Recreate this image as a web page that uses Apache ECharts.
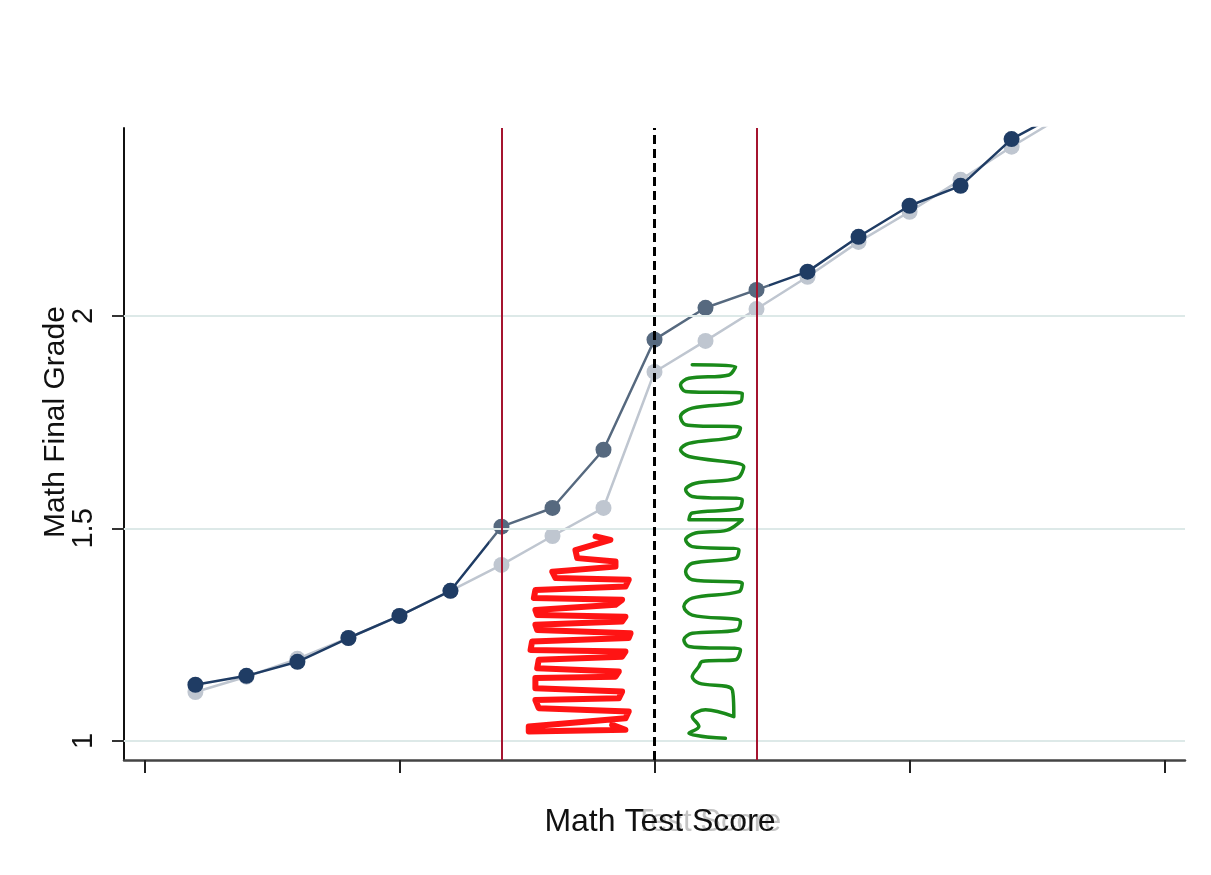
<!DOCTYPE html>
<html>
<head>
<meta charset="utf-8">
<script src="https://cdn.jsdelivr.net/npm/echarts@6/dist/echarts.min.js"></script>
<style>
  html, body { margin: 0; padding: 0; background: #fff; }
  #chart { width: 1211px; height: 875px; }
</style>
</head>
<body>
<div id="chart"></div>
<script>
// test score bins (distance from cutoff)
const scoreBins = [-18, -16, -14, -12, -10, -8, -6, -4, -2, 0, 2, 4, 6, 8, 10, 12, 14, 16]
// final grade, dark series
const gradeDark = [1.132, 1.153, 1.186, 1.242, 1.294, 1.353, 1.504, 1.548, 1.685, 1.944, 2.019, 2.061, 2.104, 2.186, 2.259, 2.306, 2.416, 2.48]
// final grade, light series
const gradeLight = [1.115, 1.151, 1.193, 1.242, 1.294, 1.353, 1.414, 1.482, 1.548, 1.868, 1.941, 2.016, 2.092, 2.174, 2.245, 2.320, 2.398, 2.47]

const yTicks = [1, 1.5, 2]
const xTicks = [-20, -10, 0, 10, 20]
const cutoff = 0
const bandLines = [-6, 4]

// hand drawn scribbles, in data units [score, grade]
const redScribble = [
  [-2.31, 1.481], [-1.73, 1.473], [-3.10, 1.449], [-3.03, 1.430], [-1.53, 1.422], [-1.53, 1.410],
  [-4.01, 1.398], [-3.88, 1.383], [-1.01, 1.379], [-1.14, 1.363], [-4.67, 1.355], [-4.73, 1.336],
  [-1.27, 1.332], [-1.53, 1.320], [-4.67, 1.308], [-4.60, 1.296], [-1.14, 1.292], [-1.27, 1.281],
  [-4.67, 1.273], [-4.60, 1.261], [-0.94, 1.253], [-1.01, 1.242], [-4.80, 1.234], [-4.86, 1.214],
  [-1.14, 1.210], [-1.27, 1.198], [-4.54, 1.191], [-4.60, 1.171], [-1.40, 1.163], [-1.53, 1.151],
  [-4.67, 1.148], [-4.67, 1.124], [-1.27, 1.116], [-1.40, 1.100], [-4.67, 1.096], [-4.54, 1.077],
  [-1.01, 1.069], [-1.14, 1.053], [-4.93, 1.034], [-4.93, 1.022], [-1.14, 1.026], [-1.66, 1.038]
]
const greenScribble = [
  [1.48, 1.885], [3.18, 1.881], [2.92, 1.861], [1.35, 1.853], [1.02, 1.838], [1.22, 1.822],
  [3.44, 1.818], [3.37, 1.798], [1.48, 1.783], [1.02, 1.763], [1.22, 1.744], [3.37, 1.736],
  [3.18, 1.716], [1.35, 1.700], [1.02, 1.685], [1.35, 1.669], [3.50, 1.645], [3.24, 1.618],
  [1.61, 1.606], [1.22, 1.591], [1.48, 1.575], [3.44, 1.567], [3.31, 1.547], [1.48, 1.536],
  [1.35, 1.520], [3.44, 1.520], [2.85, 1.496], [1.61, 1.489], [1.22, 1.473], [1.48, 1.457],
  [3.31, 1.449], [3.18, 1.430], [1.48, 1.418], [1.22, 1.398], [1.48, 1.379], [3.44, 1.371],
  [3.31, 1.351], [1.48, 1.336], [1.15, 1.316], [1.48, 1.296], [3.37, 1.281], [3.24, 1.261],
  [1.48, 1.253], [1.15, 1.238], [1.35, 1.222], [3.37, 1.214], [3.18, 1.191], [1.87, 1.187],
  [1.74, 1.175], [1.48, 1.151], [1.74, 1.136], [3.05, 1.120], [3.11, 1.057], [2.00, 1.073],
  [1.48, 1.057], [1.74, 1.034], [1.35, 1.018], [2.78, 1.006]
]

const font = 'Liberation Sans, Arial, sans-serif'
const chart = echarts.init(document.getElementById('chart'))

chart.setOption({
  animation: false,
  textStyle: { fontFamily: font },
  grid: { left: 124, right: 26, top: 128, bottom: 115 },
  xAxis: {
    type: 'value',
    min: -20.8,
    max: 20.8,
    axisLine: { lineStyle: { color: '#444', width: 2.5 } },
    axisTick: { customValues: xTicks, length: 13, lineStyle: { color: '#222', width: 2 } },
    axisLabel: { show: false },
    splitLine: { show: false }
  },
  yAxis: {
    type: 'value',
    min: 0.955,
    max: 2.442,
    axisLine: { show: true, onZero: false, lineStyle: { color: '#111', width: 2 } },
    axisTick: { customValues: yTicks, length: 12, lineStyle: { color: '#333', width: 2 } },
    axisLabel: {
      customValues: yTicks,
      rotate: 90,
      margin: 26,
      fontSize: 29,
      color: '#111',
      fontFamily: font,
      formatter: v => String(v)
    },
    splitLine: { show: false }
  },
  graphic: [
    {
      // faint ghost of the title left from the original slide
      type: 'text',
      x: 708, y: 822,
      z: -1,
      style: { text: 'Test Score', font: '31px ' + font, fill: '#c4c4c4', align: 'center', verticalAlign: 'middle' }
    },
    {
      type: 'text',
      x: 660, y: 822,
      style: { text: 'Math Test Score', font: '32px ' + font, fill: '#111', align: 'center', verticalAlign: 'middle' }
    },
    {
      type: 'text',
      x: 56, y: 422,
      rotation: Math.PI / 2,
      style: { text: 'Math Final Grade', font: '30px ' + font, fill: '#111', align: 'center', verticalAlign: 'middle' }
    }
  ],
  visualMap: {
    show: false,
    type: 'piecewise',
    seriesIndex: 2,
    dimension: 0,
    pieces: [{ gte: -6.5, lte: 4.5, color: '#56697f' }],
    outOfRange: { color: '#1f3c64' }
  },
  series: [
    {
      // guide lines: gridlines, bandwidth and cutoff
      name: 'guides',
      type: 'line',
      data: [],
      silent: true,
      markLine: {
        silent: true,
        symbol: 'none',
        label: { show: false },
        data: [
          ...yTicks.map(v => ({ yAxis: v, lineStyle: { color: '#dde9e8', width: 2, type: 'solid' } })),
          ...bandLines.map(v => ({ xAxis: v, lineStyle: { color: '#a5142f', width: 2, type: 'solid' } })),
          { xAxis: cutoff, lineStyle: { color: '#000', width: 3, type: [9, 5] } }
        ]
      }
    },
    {
      name: 'light',
      type: 'line',
      data: scoreBins.map((x, i) => [x, gradeLight[i]]),
      symbol: 'circle',
      symbolSize: 16,
      itemStyle: { color: '#bfc6d0' },
      lineStyle: { color: '#bfc6d0', width: 2.5 },
      z: 3
    },
    {
      name: 'dark',
      type: 'line',
      data: scoreBins.map((x, i) => [x, gradeDark[i]]),
      symbol: 'circle',
      symbolSize: 16,
      lineStyle: { width: 2.5 },
      z: 4
    },
    {
      name: 'red scribble',
      type: 'line',
      data: redScribble,
      showSymbol: false,
      lineStyle: { color: '#ff1414', width: 6, join: 'round', cap: 'round' },
      z: 6
    },
    {
      name: 'green scribble',
      type: 'line',
      data: greenScribble,
      showSymbol: false,
      smooth: 0.35,
      lineStyle: { color: '#1a8a1a', width: 3.5, join: 'round', cap: 'round' },
      z: 6
    }
  ]
})
</script>
</body>
</html>
